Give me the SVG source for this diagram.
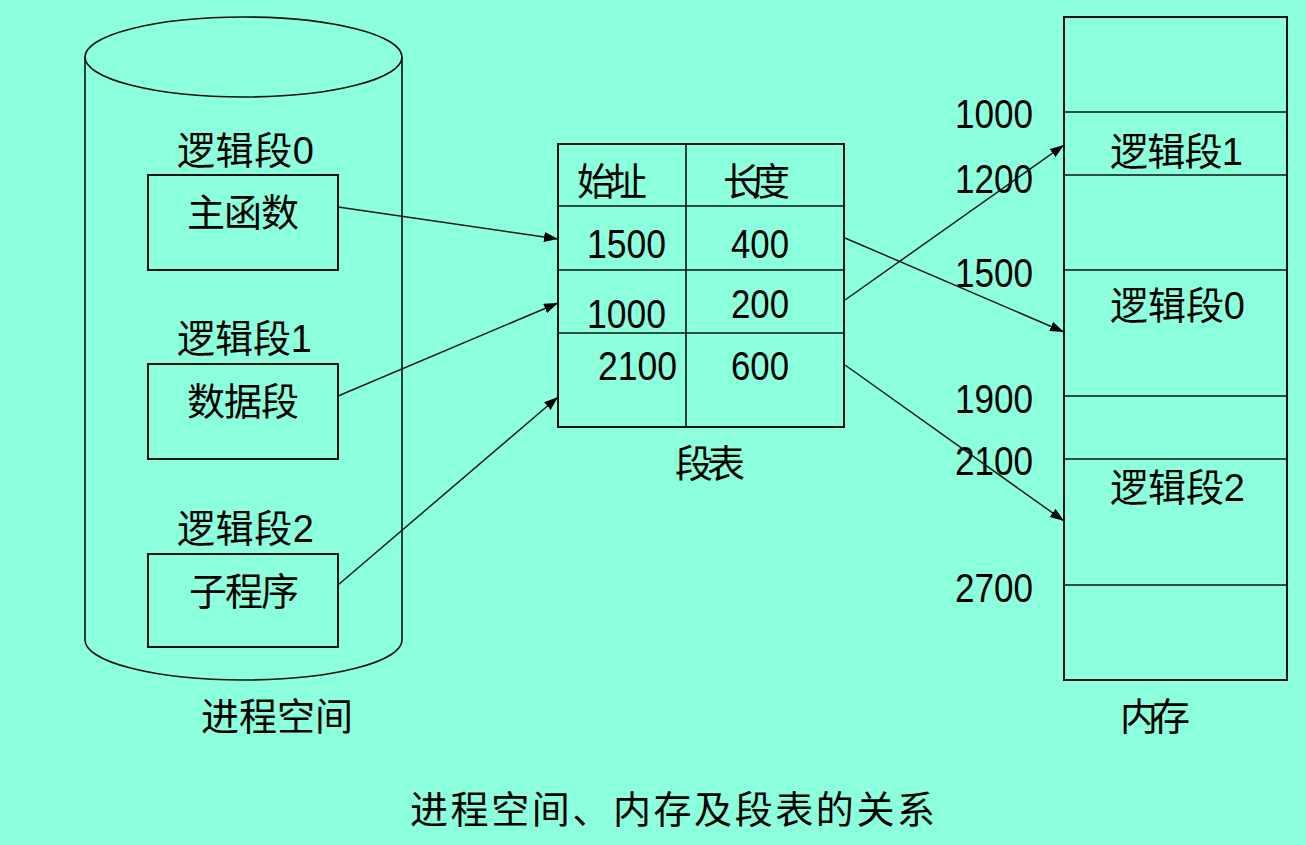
<svg xmlns="http://www.w3.org/2000/svg" width="1306" height="845" viewBox="0 0 1306 845">
<style>
.bg{fill:#8cffdc}
.box{fill:none;stroke:#111;stroke-width:2}
.ln{fill:none;stroke:#111;stroke-width:1.6}
.cn{fill:none;stroke:#1a1a1a;stroke-width:1.5;marker-end:url(#ah)}
.cj{font-family:"Liberation Sans","Noto Sans CJK SC",sans-serif;font-size:38px;fill:#000}
.dg{font-family:"Liberation Sans",sans-serif;font-size:40px;fill:#000}
</style>
<defs>
<marker id="ah" viewBox="0 0 14 10" refX="14" refY="5" markerWidth="14" markerHeight="10" markerUnits="userSpaceOnUse" orient="auto">
<path d="M0,0 L14,5 L0,10 Z" fill="#000"/>
</marker>
</defs>
<rect class="bg" x="0" y="0" width="1306" height="845"/>

<g id="process-space">
<path class="ln" d="M85,57 L85,640 A158.5,40 0 0 0 402,640 L402,57"/>
<ellipse class="ln" cx="243.5" cy="57" rx="158.5" ry="40"/>
<text class="cj" x="201" y="730" textLength="152" lengthAdjust="spacing">进程空间</text>
</g>

<g id="seg0">
<text class="cj" x="177" y="164" textLength="137" lengthAdjust="spacing">逻辑段0</text>
<rect class="box" x="148" y="175" width="190" height="95"/>
<text class="cj" x="187" y="226" textLength="112" lengthAdjust="spacing">主函数</text>
</g>

<g id="seg1">
<text class="cj" x="177" y="352" textLength="135" lengthAdjust="spacing">逻辑段1</text>
<rect class="box" x="148" y="364" width="190" height="95"/>
<text class="cj" x="187" y="415" textLength="112" lengthAdjust="spacing">数据段</text>
</g>

<g id="seg2">
<text class="cj" x="177" y="542" textLength="137" lengthAdjust="spacing">逻辑段2</text>
<rect class="box" x="148" y="554" width="190" height="93"/>
<text class="cj" x="189" y="605" textLength="110" lengthAdjust="spacing">子程序</text>
</g>

<g id="segment-table">
<rect class="box" x="558" y="144" width="286" height="283"/>
<line class="ln" x1="686" y1="144" x2="686" y2="427"/>
<line class="ln" x1="558" y1="206" x2="844" y2="206"/>
<line class="ln" x1="558" y1="270" x2="844" y2="270"/>
<line class="ln" x1="558" y1="333" x2="844" y2="333"/>
<text class="cj" x="577" y="195" textLength="70" lengthAdjust="spacing">始址</text>
<text class="cj" x="723" y="195" textLength="67" lengthAdjust="spacing">长度</text>
<text class="dg" x="587" y="258" textLength="79" lengthAdjust="spacingAndGlyphs">1500</text>
<text class="dg" x="731" y="258" textLength="58" lengthAdjust="spacingAndGlyphs">400</text>
<text class="dg" x="587" y="328" textLength="79" lengthAdjust="spacingAndGlyphs">1000</text>
<text class="dg" x="731" y="318" textLength="58" lengthAdjust="spacingAndGlyphs">200</text>
<text class="dg" x="598" y="380" textLength="79" lengthAdjust="spacingAndGlyphs">2100</text>
<text class="dg" x="731" y="380" textLength="58" lengthAdjust="spacingAndGlyphs">600</text>
<text class="cj" x="675" y="477" textLength="70" lengthAdjust="spacing">段表</text>
</g>

<g id="memory">
<rect class="box" x="1064" y="17" width="223" height="663"/>
<line class="ln" x1="1064" y1="112" x2="1287" y2="112"/>
<line class="ln" x1="1064" y1="175" x2="1287" y2="175"/>
<line class="ln" x1="1064" y1="270" x2="1287" y2="270"/>
<line class="ln" x1="1064" y1="396" x2="1287" y2="396"/>
<line class="ln" x1="1064" y1="459" x2="1287" y2="459"/>
<line class="ln" x1="1064" y1="585" x2="1287" y2="585"/>
<text class="cj" x="1110" y="165" textLength="133" lengthAdjust="spacing">逻辑段1</text>
<text class="cj" x="1110" y="319" textLength="135" lengthAdjust="spacing">逻辑段0</text>
<text class="cj" x="1110" y="501" textLength="135" lengthAdjust="spacing">逻辑段2</text>
<text class="cj" x="1120" y="730" textLength="70" lengthAdjust="spacing">内存</text>
<text class="dg" x="955" y="128" textLength="78" lengthAdjust="spacingAndGlyphs">1000</text>
<text class="dg" x="955" y="193" textLength="78" lengthAdjust="spacingAndGlyphs">1200</text>
<text class="dg" x="955" y="287" textLength="78" lengthAdjust="spacingAndGlyphs">1500</text>
<text class="dg" x="955" y="413" textLength="78" lengthAdjust="spacingAndGlyphs">1900</text>
<text class="dg" x="955" y="475" textLength="78" lengthAdjust="spacingAndGlyphs">2100</text>
<text class="dg" x="955" y="602" textLength="78" lengthAdjust="spacingAndGlyphs">2700</text>
</g>

<g id="connectors">
<line class="cn" x1="338" y1="207" x2="558" y2="239"/>
<line class="cn" x1="338" y1="396" x2="558" y2="303"/>
<line class="cn" x1="338" y1="585" x2="558" y2="397"/>
<line class="cn" x1="845" y1="238" x2="1064" y2="332"/>
<line class="cn" x1="845" y1="300" x2="1064" y2="145"/>
<line class="cn" x1="845" y1="365" x2="1064" y2="521"/>
</g>

<g id="title">
<text class="cj" x="410" y="823" textLength="525" lengthAdjust="spacing">进程空间、内存及段表的关系</text>
</g>
</svg>
